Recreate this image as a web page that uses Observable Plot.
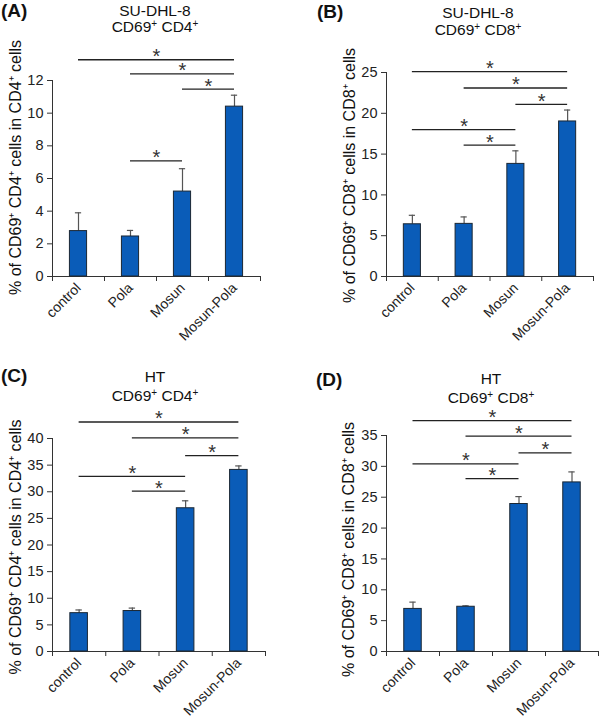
<!DOCTYPE html>
<html>
<head>
<meta charset="utf-8">
<script src="https://cdn.jsdelivr.net/npm/d3@7"></script>
<script src="https://cdn.jsdelivr.net/npm/@observablehq/plot@0.6"></script>
<style>
  body { margin: 0; background: #fff; font-family: "Liberation Sans", Arial, sans-serif; color: #111; }
  #fig { position: relative; width: 600px; height: 720px; overflow: hidden; }
  .panel { position: absolute; width: 300px; height: 360px; }
  .panel svg { position: absolute; left: 0; top: 0; overflow: visible; }
  .tag { position: absolute; font-weight: bold; font-size: 19px; line-height: 20px; }
  .title { position: absolute; font-size: 15.5px; text-align: center; white-space: nowrap; transform: translateX(-50%); }
  .title sup { font-size: 10px; line-height: 0; vertical-align: 5px; }
</style>
</head>
<body>
<div id="fig"></div>
<script>
// Treatment groups (x axis)
const groups = ["control", "Pola", "Mosun", "Mosun-Pola"];

// SU-DHL-8, CD69+ CD4+ (%)
const dhl8Cd4Mean = [2.78, 2.45, 5.2, 10.4];
const dhl8Cd4Err = [1.12, 0.37, 1.4, 0.7];
const dhl8Cd4Sig = [[0, 3, 13.27], [1, 3, 12.41], [2, 3, 11.47], [1, 2, 7.08]];

// SU-DHL-8, CD69+ CD8+ (%)
const dhl8Cd8Mean = [6.4, 6.45, 13.8, 19.0];
const dhl8Cd8Err = [1.1, 0.85, 1.6, 1.4];
const dhl8Cd8Sig = [[0, 3, 25.1], [1, 3, 23.1], [2, 3, 21.1], [0, 2, 18.0], [1, 2, 16.1]];

// HT, CD69+ CD4+ (%)
const htCd4Mean = [7.2, 7.6, 26.9, 34.1];
const htCd4Err = [0.6, 0.55, 1.4, 0.75];
const htCd4Sig = [[0, 3, 43.1], [1, 3, 40.1], [2, 3, 36.8], [0, 2, 32.9], [1, 2, 30.1]];

// HT, CD69+ CD8+ (%)
const htCd8Mean = [6.9, 7.25, 23.9, 27.4];
const htCd8Err = [1.1, 0.15, 1.2, 1.7];
const htCd8Sig = [[0, 3, 37.4], [1, 3, 34.9], [2, 3, 32.2], [0, 2, 30.4], [1, 2, 28.0]];

// y-axis extents and tick steps
const yMax = [12, 25, 40, 35];
const yStep = [2, 5, 5, 5];

const panels = [
  { tag: "(A)", cell: "SU-DHL-8", subset: "CD4", mean: dhl8Cd4Mean, err: dhl8Cd4Err, sig: dhl8Cd4Sig,
    pos: [0, 0], margin: [80, 40, 84, 52], tagPos: [1, 1], titlePos: [155, 3], titleLH: 16, yl: [-37, -11] },
  { tag: "(B)", cell: "SU-DHL-8", subset: "CD8", mean: dhl8Cd8Mean, err: dhl8Cd8Err, sig: dhl8Cd8Sig,
    pos: [300, 0], margin: [72, 7, 84, 86], tagPos: [17, 2], titlePos: [178, 4], titleLH: 17, yl: [-37, 1] },
  { tag: "(C)", cell: "HT", subset: "CD4", mean: htCd4Mean, err: htCd4Err, sig: htCd4Sig,
    pos: [0, 360], margin: [78, 35, 69, 52], tagPos: [1, 6], titlePos: [155, 7], titleLH: 19, yl: [-37, 2] },
  { tag: "(D)", cell: "HT", subset: "CD8", mean: htCd8Mean, err: htCd8Err, sig: htCd8Sig,
    pos: [300, 360], margin: [75, 2, 69, 86], tagPos: [16, 10], titlePos: [191, 9], titleLH: 19, yl: [-38, 6] }
];

const font = "'Liberation Sans', Arial, Helvetica, sans-serif";
const fig = document.getElementById("fig");

panels.forEach((p, k) => {
  const div = document.createElement("div");
  div.className = "panel";
  div.style.left = p.pos[0] + "px";
  div.style.top = p.pos[1] + "px";

  const bars = groups.map((g, i) => ({ i, g, mean: p.mean[i], top: p.mean[i] + p.err[i] }));
  const sig = p.sig.map(([a, b, level]) => ({ a, b, level, mid: (a + b) / 2 }));
  const ticks = d3.range(0, yMax[k] + 1e-9, yStep[k]);
  const [mt, mr, mb, ml] = p.margin;

  const chart = Plot.plot({
    width: 300,
    height: 360,
    marginTop: mt,
    marginRight: mr,
    marginBottom: mb,
    marginLeft: ml,
    style: { fontFamily: font, fontSize: "14px", color: "#222", background: "transparent", overflow: "visible" },
    x: { type: "linear", domain: [-0.5, 3.5] },
    y: { domain: [0, yMax[k]] },
    marks: [
      // axes
      Plot.axisY({ ticks, tickSize: 5, tickPadding: 4, tickFormat: d3.format("d"), label: null, stroke: "#333", fontSize: 14.5 }),
      Plot.ruleX([-0.5], { y1: 0, y2: yMax[k], stroke: "#333" }),
      Plot.ruleY([0], { x1: -0.5, x2: 3.5, stroke: "#333" }),
      Plot.axisX({ ticks: [-0.5, 0.5, 1.5, 2.5, 3.5], tickSize: 5, tickFormat: () => "", label: null, stroke: "#333" }),
      Plot.axisX({ ticks: [0, 1, 2, 3], tickSize: 0, tickPadding: 9, tickRotate: -45,
        tickFormat: (i) => groups[i], label: null, fontSize: 14 }),
      // error bars (upper only)
      Plot.ruleX(bars, { x: "i", y1: "mean", y2: "top", stroke: "#555", strokeWidth: 1.2 }),
      Plot.ruleY(bars, { y: "top", x1: (d) => d.i - 0.06, x2: (d) => d.i + 0.06, stroke: "#555", strokeWidth: 1.2 }),
      // bars
      Plot.rectY(bars, { x1: (d) => d.i - 0.165, x2: (d) => d.i + 0.165, y1: 0, y2: "mean",
        fill: "#0a5cb8", stroke: "#1b2733", strokeWidth: 1 }),
      // significance brackets
      Plot.ruleY(sig, { y: "level", x1: "a", x2: "b", stroke: "#222", strokeWidth: 1.3 }),
      Plot.text(sig, { x: "mid", y: "level", text: () => "*", fontSize: 20, dy: -3, fill: "#333" }),
      // y-axis title
      Plot.text([`% of CD69\u207A ${p.subset}\u207A cells in ${p.subset}\u207A cells`], {
        frameAnchor: "left", textAnchor: "middle", rotate: -90, dx: p.yl[0], dy: p.yl[1], fontSize: 16, fill: "#111" })
    ]
  });
  div.appendChild(chart);

  const tag = document.createElement("div");
  tag.className = "tag";
  tag.textContent = p.tag;
  tag.style.left = p.tagPos[0] + "px";
  tag.style.top = p.tagPos[1] + "px";
  div.appendChild(tag);

  const title = document.createElement("div");
  title.className = "title";
  title.style.left = p.titlePos[0] + "px";
  title.style.top = p.titlePos[1] + "px";
  title.style.lineHeight = p.titleLH + "px";
  title.innerHTML = `${p.cell}<br>CD69<sup>+</sup> ${p.subset}<sup>+</sup>`;
  div.appendChild(title);

  fig.appendChild(div);
});
</script>
</body>
</html>
